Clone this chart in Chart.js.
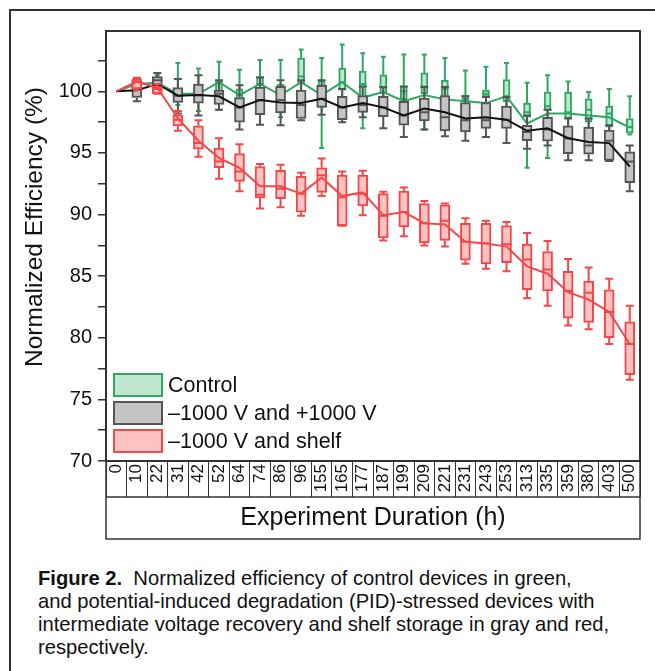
<!DOCTYPE html>
<html>
<head>
<meta charset="utf-8">
<script src="https://cdn.jsdelivr.net/npm/chart.js@4.4.1/dist/chart.umd.min.js"></script>
<style>
  html, body { margin: 0; padding: 0; background: #fff; overflow: hidden; width: 655px; height: 671px; }
  body { position: relative; font-family: "Liberation Sans", Arial, sans-serif; color: #111; }
  #frame { position: absolute; left: 9px; top: 9px; width: 720px; height: 720px; border: 2px solid #333; }
  #chart { position: absolute; left: 0; top: 0; }
  #ytitle { position: absolute; left: 34px; top: 227px; transform: translate(-50%, -50%) rotate(-90deg);
            font-size: 24.5px; white-space: nowrap; }
  #legend { position: absolute; left: 113px; top: 371px; }
  #legend .item { height: 28px; display: flex; align-items: center; font-size: 21.5px; white-space: nowrap; }
  #legend .sw { width: 50px; height: 24px; box-sizing: border-box; border: 2px solid; margin-right: 5px; }
  #caption { position: absolute; left: 38px; top: 567px; font-size: 20.2px; line-height: 23px; white-space: nowrap; }
</style>
</head>
<body>
<div id="frame"></div>
<canvas id="chart" width="655" height="545"></canvas>
<div id="ytitle">Normalized Efficiency (%)</div>
<div id="legend">
  <div class="item"><span class="sw" style="background:#bfe7cf;border-color:#2ea860"></span>Control</div>
  <div class="item"><span class="sw" style="background:#c4c4c4;border-color:#555"></span>–1000 V and +1000 V</div>
  <div class="item"><span class="sw" style="background:#ffc2c2;border-color:#f24848"></span>–1000 V and shelf</div>
</div>
<div id="caption"><b>Figure 2.</b>&nbsp; Normalized efficiency of control devices in green,<br>and potential-induced degradation (PID)-stressed devices with<br>intermediate voltage recovery and shelf storage in gray and red,<br>respectively.</div>

<script>
const hours = ["0", "10", "22", "31", "42", "52", "64", "74", "86", "96", "155", "165", "177",
  "187", "199", "209", "221", "231", "243", "253", "313", "335", "359", "380", "403", "500"];

// Control (green)
const ctrlMean = [100, 100.6, 100.7, 99.8, 99.8, 100.75, 99.7, 100.6, 99.7, 100.75, 99.7, 100.75, 99.5,
  99.95, 99.2, 99.7, 99.35, 99.2, 99.05, 99.6, 97.4, 98.2, 98.2, 98.05, 97.9, 97.05];
const ctrlQ3 = [100, 100.8, 100.9, 100.2, 100.6, 100.9, 100.2, 101.15, 100.6, 102.7, 100.9, 101.9, 101.65,
  101.35, 100.45, 101.5, 100.9, 99.7, 100.1, 100.95, 99.05, 99.95, 99.95, 99.4, 98.8, 97.8];
const ctrlQ1 = [100, 100.3, 100.4, 99.3, 99.4, 99.7, 99.2, 100.5, 98.6, 100.6, 98.7, 100.1, 99.3,
  99.8, 99.3, 99.8, 99.4, 99.15, 99.55, 99.15, 97.9, 98.45, 97.8, 97.5, 97.1, 96.6];
const ctrlMed = [100, 100.6, 100.7, 99.8, 99.8, 100.75, 99.7, 100.6, 99.7, 101.2, 99.7, 100.75, 100.6,
  100.3, 100.0, 100.4, 100.2, 99.4, 99.8, 99.6, 98.3, 98.8, 98.3, 98.5, 98.2, 97.1];
const ctrlHi = [100, 101.0, 101.3, 102.3, 101.85, 102.4, 101.75, 102.55, 102.55, 103.4, 102.7, 103.8, 103.1,
  102.8, 103.0, 103.0, 102.7, 101.7, 102.0, 102.3, 100.7, 101.3, 100.8, 99.95, 100.2, 99.6];
const ctrlLo = [100, 100.1, 100.0, 98.9, 98.4, 98.5, 98.6, 99.4, 97.9, 99.9, 95.4, 98.4, 97.0,
  98.6, 97.8, 96.9, 98.0, 98.6, 99.0, 98.5, 93.8, 94.6, 97.0, 96.8, 96.5, 96.5];

// -1000 V and +1000 V (gray)
const pmMean = [100, 100.1, 100.6, 99.65, 99.7, 99.6, 98.7, 99.3, 99.1, 99.05, 99.4, 98.7, 99.05,
  98.7, 98.05, 98.6, 98.3, 97.8, 97.9, 97.7, 96.8, 97.0, 96.2, 95.9, 95.8, 93.9];
const pmQ3 = [100, 100.9, 101.2, 100.3, 100.6, 100.1, 99.5, 100.35, 100.4, 100.1, 100.5, 99.6, 99.65,
  99.6, 99.2, 99.45, 99.65, 99.1, 99.1, 98.8, 97.25, 97.9, 97.2, 97.1, 96.85, 95.1];
const pmQ1 = [100, 99.5, 100.5, 99.1, 99.05, 98.95, 97.5, 98.1, 98.25, 97.8, 98.7, 97.7, 98.3,
  97.95, 97.25, 97.6, 96.8, 96.7, 97.0, 97.0, 96.0, 95.95, 94.95, 94.9, 94.4, 92.6];
const pmMed = [100, 100.3, 100.9, 99.65, 99.7, 99.8, 98.7, 99.3, 99.3, 98.9, 99.4, 98.7, 98.9,
  98.7, 98.05, 98.3, 97.9, 97.65, 97.65, 97.7, 96.7, 96.9, 96.2, 95.6, 96.0, 94.3];
const pmHi = [100, 101.0, 101.5, 101.0, 101.3, 100.9, 100.5, 101.15, 100.9, 100.9, 100.9, 100.2, 100.4,
  100.35, 100.4, 100.35, 100.35, 99.6, 99.55, 99.55, 98.05, 98.5, 97.8, 97.8, 97.25, 95.6];
const pmLo = [100, 99.2, 99.9, 98.2, 98.05, 98.5, 96.9, 97.3, 97.25, 97.65, 98.1, 97.5, 97.9,
  97.0, 96.3, 96.9, 96.35, 96.0, 96.3, 95.8, 95.35, 95.6, 94.4, 94.4, 94.35, 91.9];

// -1000 V and shelf (red)
const shelfMean = [100, 100.8, 100.3, 97.8, 96.0, 94.6, 93.8, 92.3, 92.3, 91.7, 93.0, 91.5, 91.8,
  89.95, 90.2, 89.3, 89.2, 87.8, 87.65, 87.4, 85.8, 85.2, 83.7, 83.1, 82.1, 79.5];
const shelfQ3 = [100, 101.0, 100.4, 98.1, 97.2, 95.4, 94.95, 93.9, 93.6, 93.1, 93.8, 93.2, 93.2,
  91.7, 91.9, 90.9, 90.8, 89.3, 89.3, 89.1, 87.6, 87.0, 85.4, 84.6, 83.9, 81.3];
const shelfQ1 = [100, 100.2, 99.8, 97.2, 95.3, 93.8, 92.7, 91.35, 91.3, 90.2, 91.8, 89.1, 90.7,
  88.1, 89.0, 87.7, 87.9, 86.3, 86.0, 86.1, 83.9, 83.8, 81.6, 81.25, 80.0, 77.0];
const shelfMed = [100, 100.8, 100.2, 97.7, 95.8, 94.3, 93.5, 91.6, 92.1, 91.7, 93.2, 91.4, 91.7,
  89.9, 90.2, 89.3, 89.5, 87.8, 87.65, 87.6, 86.35, 85.55, 83.8, 83.65, 82.1, 79.5];
const shelfHi = [100, 101.1, 100.6, 98.4, 97.65, 96.2, 95.7, 94.1, 94.05, 93.4, 94.55, 93.5, 93.55,
  91.85, 92.2, 91.1, 90.9, 89.7, 89.5, 89.4, 88.5, 87.85, 86.4, 85.7, 84.8, 82.6];
const shelfLo = [100, 100.1, 99.8, 96.8, 94.7, 92.9, 91.9, 90.5, 90.6, 89.9, 91.5, 89.1, 89.95,
  87.9, 88.25, 87.5, 87.4, 86.0, 85.6, 85.4, 83.2, 82.6, 81.0, 80.7, 79.5, 76.6];

const yTicks = [70, 75, 80, 85, 90, 95, 100];

const GREEN = "#2ea860", GRAY = "#555555", RED = "#f24848";

function boxSet(label, q1, q3, med, lo, hi, fill, edge, width, order) {
  return {
    type: "bar", label: label,
    data: q1.map((v, i) => [v, q3[i]]),
    med: med, lo: lo, hi: hi,
    backgroundColor: fill, borderColor: edge, borderWidth: 2, borderSkipped: false,
    barThickness: width, grouped: false, order: order
  };
}

function lineSet(label, data, color, order) {
  return {
    type: "line", label: label, data: data,
    borderColor: color, borderWidth: 2, pointRadius: 0, tension: 0, fill: false, order: order
  };
}

// whiskers + median for each box dataset, drawn in the dataset's own layer
const whiskers = {
  id: "whiskers",
  afterDatasetDraw(chart, args) {
    const ds = chart.data.datasets[args.index];
    if (!ds.hi) return;
    const y = chart.scales.y, ctx = chart.ctx;
    const half = ds.barThickness / 2, cap = ds.barThickness / 2 - 1;
    ctx.save();
    ctx.strokeStyle = ds.borderColor;
    ctx.lineWidth = 2;
    args.meta.data.forEach((bar, i) => {
      const x = bar.x;
      const [q1, q3] = ds.data[i];
      if (ds.hi[i] === ds.lo[i]) return;
      ctx.beginPath();
      ctx.moveTo(x, y.getPixelForValue(q3)); ctx.lineTo(x, y.getPixelForValue(ds.hi[i]));
      ctx.moveTo(x - cap, y.getPixelForValue(ds.hi[i])); ctx.lineTo(x + cap, y.getPixelForValue(ds.hi[i]));
      ctx.moveTo(x, y.getPixelForValue(q1)); ctx.lineTo(x, y.getPixelForValue(ds.lo[i]));
      ctx.moveTo(x - cap, y.getPixelForValue(ds.lo[i])); ctx.lineTo(x + cap, y.getPixelForValue(ds.lo[i]));
      ctx.moveTo(x - half, y.getPixelForValue(ds.med[i])); ctx.lineTo(x + half, y.getPixelForValue(ds.med[i]));
      ctx.stroke();
    });
    ctx.restore();
  }
};

// plot frame, bottom line of the label cells and the title box
const frames = {
  id: "frames",
  afterDraw(chart) {
    const { ctx, chartArea: a } = chart, x = chart.scales.x;
    ctx.save();
    ctx.strokeStyle = "#333";
    ctx.lineWidth = 2;
    ctx.strokeRect(a.left, a.top, a.right - a.left, a.bottom - a.top);
    ctx.lineWidth = 1.5;
    ctx.strokeRect(x.left, x.top, x.right - x.left, x.bottom - x.top);
    ctx.beginPath();
    ctx.moveTo(x.left, x.top + 36);
    ctx.lineTo(x.right, x.top + 36);
    ctx.stroke();
    ctx.restore();
  }
};

Chart.defaults.font.family = '"Liberation Sans", Arial, sans-serif';
Chart.defaults.color = "#111";

new Chart(document.getElementById("chart"), {
  type: "bar",
  data: {
    labels: hours,
    datasets: [
      boxSet("Control", ctrlQ1, ctrlQ3, ctrlMed, ctrlLo, ctrlHi, "#bfe7cf", GREEN, 7, 6),
      lineSet("Control mean", ctrlMean, GREEN, 5),
      boxSet("–1000 V and +1000 V", pmQ1, pmQ3, pmMed, pmLo, pmHi, "#c4c4c4", GRAY, 10, 4),
      lineSet("–1000 V and +1000 V mean", pmMean, "#111", 3),
      boxSet("–1000 V and shelf", shelfQ1, shelfQ3, shelfMed, shelfLo, shelfHi, "#ffc2c2", RED, 10, 2),
      lineSet("–1000 V and shelf mean", shelfMean, RED, 1)
    ]
  },
  options: {
    responsive: false,
    animation: false,
    layout: { padding: { left: 10, right: 15, top: 31, bottom: 6 } },
    plugins: { legend: { display: false }, tooltip: { enabled: false } },
    scales: {
      x: {
        offset: true,
        border: { display: false },
        grid: { offset: true, drawOnChartArea: false, drawTicks: true, tickLength: 36, color: "#333", lineWidth: 1 },
        ticks: { autoSkip: false, minRotation: 90, maxRotation: 90, padding: -33, font: { size: 17 } },
        title: { display: true, text: "Experiment Duration (h)", font: { size: 25 }, padding: { top: 0, bottom: 6 } },
        afterFit(scale) { scale.height = 78; }
      },
      y: {
        min: 70, max: 104.9,
        border: { display: false },
        grid: { drawOnChartArea: false, drawTicks: true, tickLength: 8, color: "#333", lineWidth: 1.5 },
        ticks: {
          stepSize: 2.5, includeBounds: false, padding: 6, font: { size: 20 },
          callback: v => yTicks.includes(v) ? String(v) : ""
        },
        afterFit(scale) { scale.width = 96; }
      }
    }
  },
  plugins: [whiskers, frames]
});
</script>
</body>
</html>
